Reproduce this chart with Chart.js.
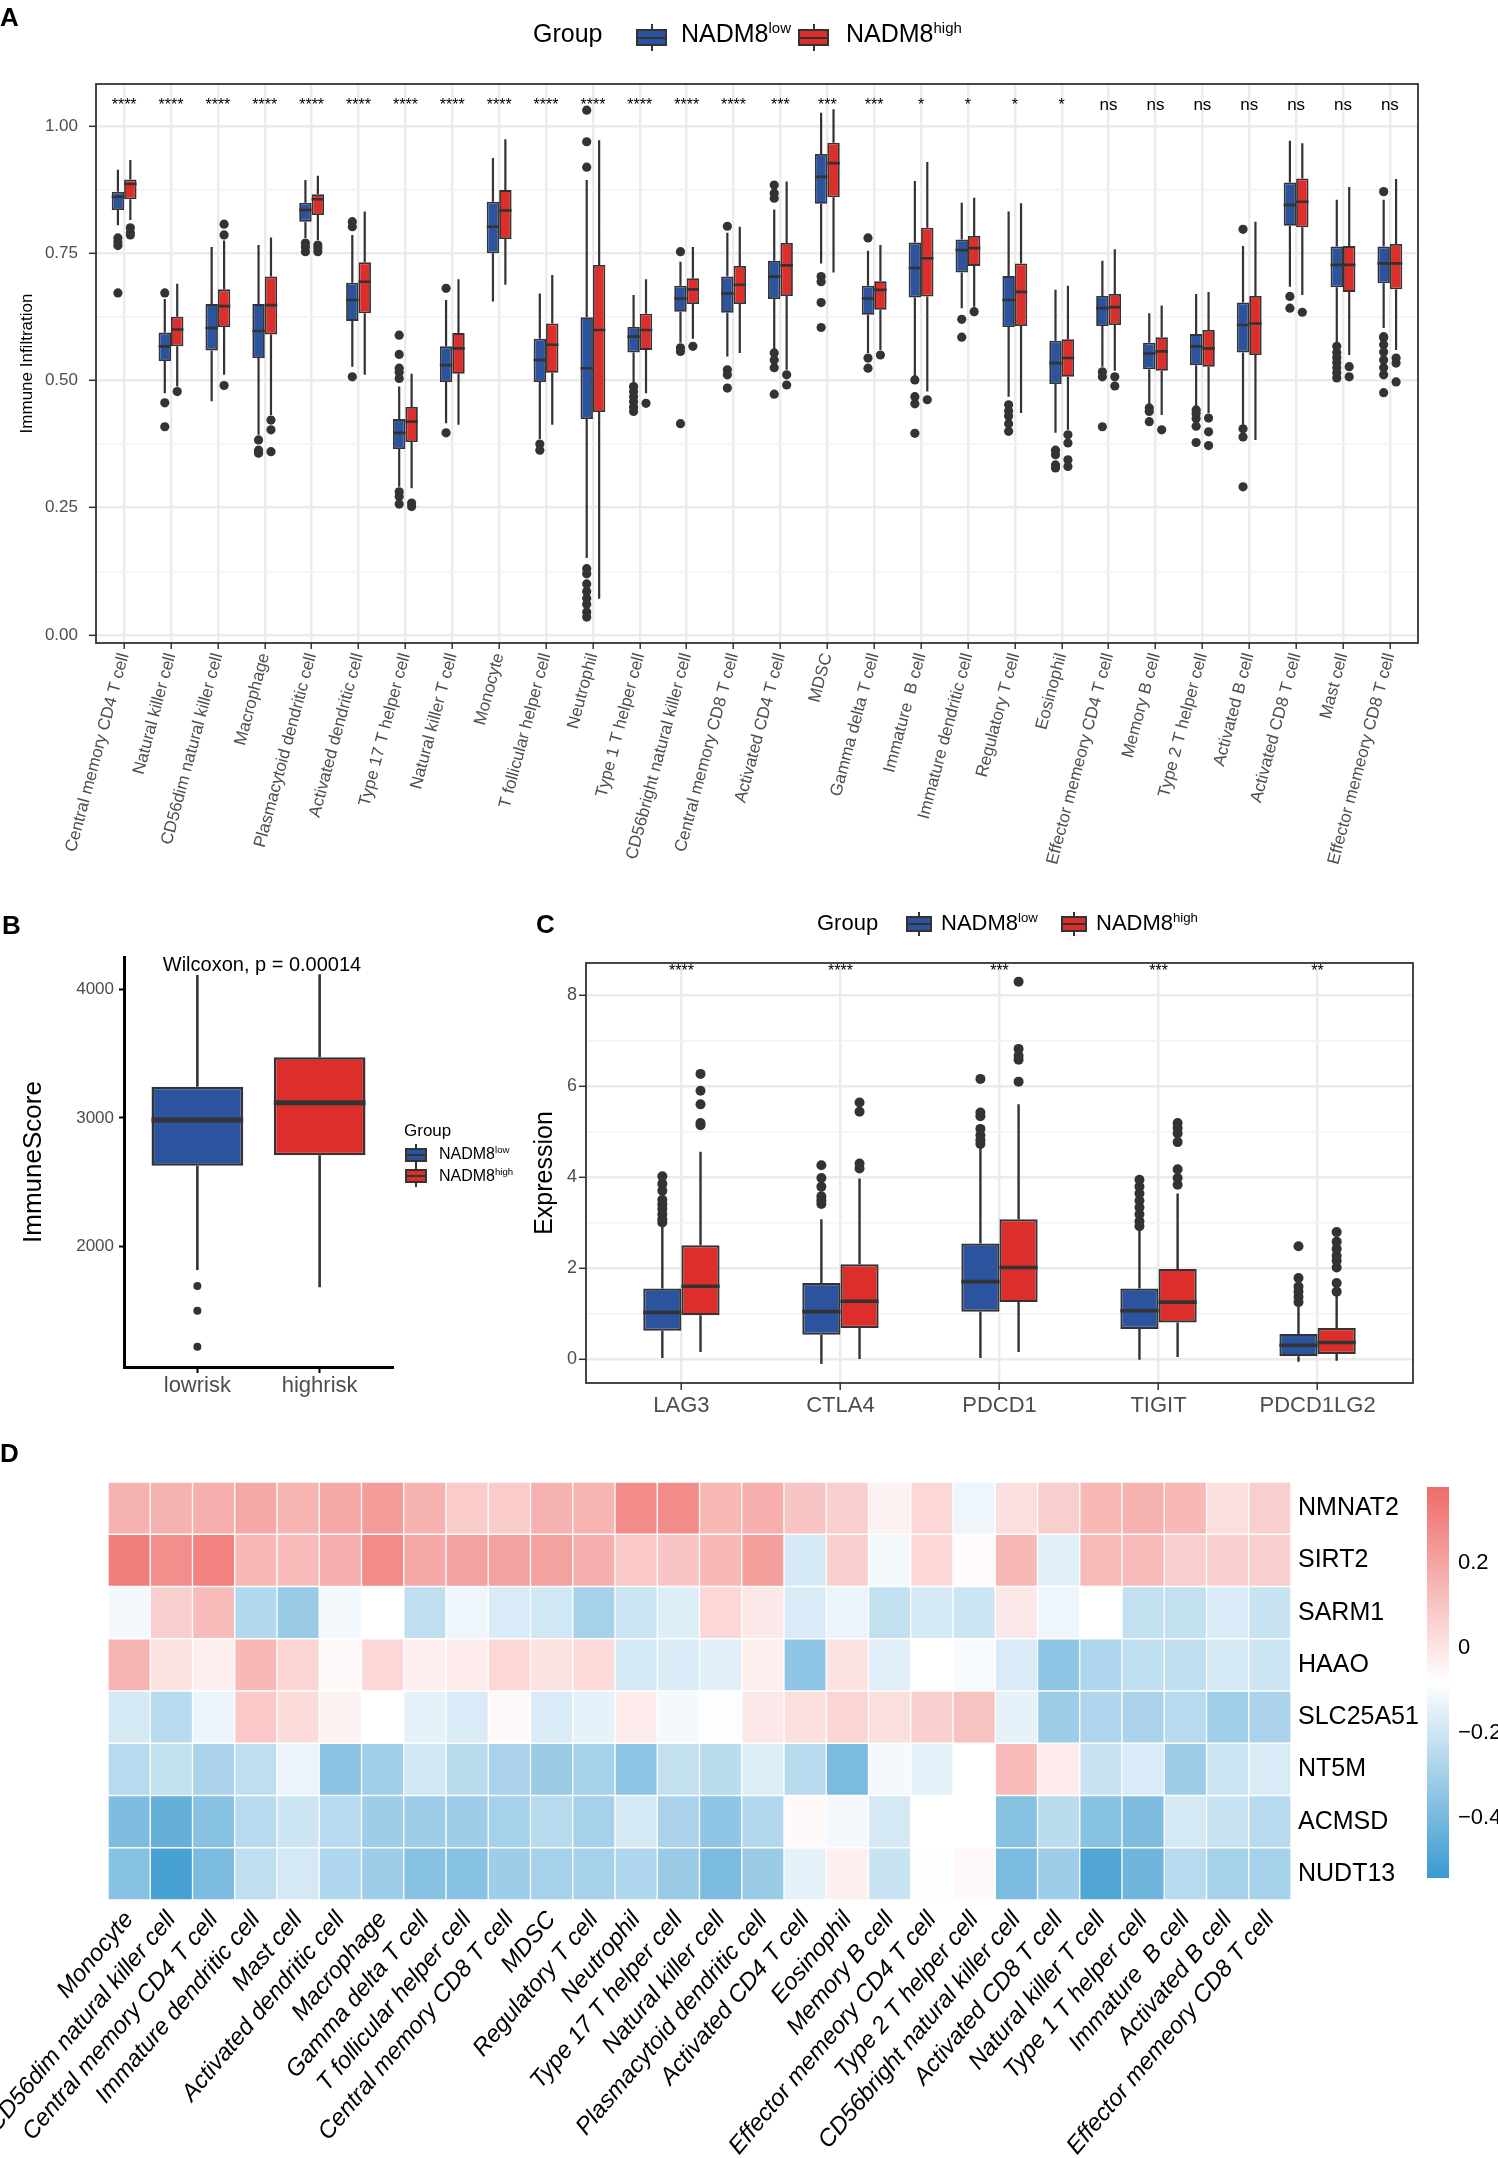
<!DOCTYPE html>
<html>
<head>
<meta charset="utf-8">
<title>NADM8 immune infiltration</title>
<script src="https://cdn.jsdelivr.net/npm/chart.js@4.4.1/dist/chart.umd.min.js"></script>
<style>
  body { margin: 0; background: #fff; font-family: 'Liberation Sans', Arial, sans-serif; }
  #page { position: relative; width: 1498px; height: 2158px; overflow: hidden; background: #fff; }
  canvas { position: absolute; }
  .txt { position: absolute; line-height: 1; white-space: nowrap; color: #000; }
  .tag { font-weight: bold; font-size: 26px; }
  sup { font-size: 0.6em; vertical-align: 0.62em; line-height: 0; }
  .key { position: absolute; }
  .key i { position: absolute; left: 50%; width: 2px; margin-left: -1px; top: 0; bottom: 0; background: #333; }
  .key b { position: absolute; left: 0; right: 0; top: 17%; bottom: 17%; border: 2px solid #333; box-sizing: border-box; }
  .key b::after { content: ''; position: absolute; left: 0; right: 0; top: 50%; height: 2px; margin-top: -1px; background: #333; }
</style>
</head>
<body>
<div id="page">
  <canvas id="cA" width="1498" height="890" style="left:0;top:0"></canvas>
  <canvas id="cB" width="560" height="540" style="left:0;top:900px"></canvas>
  <canvas id="cC" width="998" height="560" style="left:500px;top:880px"></canvas>
  <canvas id="cD" width="1498" height="718" style="left:0;top:1440px"></canvas>
  <canvas id="cE" width="98" height="480" style="left:1400px;top:1440px"></canvas>

  <div class="txt tag" style="left:0;top:4px">A</div>
  <div class="txt" style="left:533px;top:21px;font-size:25px">Group</div>
  <div class="key" style="left:636px;top:24px;width:31px;height:27px"><i></i><b style="background:#2B539E"></b></div>
  <div class="txt" style="left:681px;top:21px;font-size:25px">NADM8<sup>low</sup></div>
  <div class="key" style="left:798px;top:24px;width:31px;height:27px"><i></i><b style="background:#DC2F2B"></b></div>
  <div class="txt" style="left:846px;top:21px;font-size:25px">NADM8<sup>high</sup></div>

  <div class="txt tag" style="left:2px;top:912px">B</div>
  <div class="txt" style="left:112px;width:300px;text-align:center;top:954px;font-size:20px">Wilcoxon, p = 0.00014</div>
  <div class="txt" style="left:404px;top:1122px;font-size:17px">Group</div>
  <div class="key" style="left:405px;top:1144px;width:22px;height:22px"><i></i><b style="background:#2B539E"></b></div>
  <div class="txt" style="left:439px;top:1146px;font-size:16px">NADM8<sup>low</sup></div>
  <div class="key" style="left:405px;top:1165px;width:22px;height:22px"><i></i><b style="background:#DC2F2B"></b></div>
  <div class="txt" style="left:439px;top:1168px;font-size:16px">NADM8<sup>high</sup></div>

  <div class="txt tag" style="left:536px;top:911px">C</div>
  <div class="txt" style="left:817px;top:912px;font-size:22px">Group</div>
  <div class="key" style="left:906px;top:912px;width:26px;height:24px"><i></i><b style="background:#2B539E"></b></div>
  <div class="txt" style="left:941px;top:912px;font-size:22px">NADM8<sup>low</sup></div>
  <div class="key" style="left:1061px;top:912px;width:26px;height:24px"><i></i><b style="background:#DC2F2B"></b></div>
  <div class="txt" style="left:1096px;top:912px;font-size:22px">NADM8<sup>high</sup></div>

  <div class="txt tag" style="left:0;top:1440px">D</div>
</div>

<script>
// ---------- panel A: ssGSEA immune infiltration ----------
const cellsA = [
  'Central memory CD4 T cell', 'Natural killer cell', 'CD56dim natural killer cell', 'Macrophage',
  'Plasmacytoid dendritic cell', 'Activated dendritic cell', 'Type 17 T helper cell', 'Natural killer T cell',
  'Monocyte', 'T follicular helper cell', 'Neutrophil', 'Type 1 T helper cell',
  'CD56bright natural killer cell', 'Central memory CD8 T cell', 'Activated CD4 T cell', 'MDSC',
  'Gamma delta T cell', 'Immature  B cell', 'Immature dendritic cell', 'Regulatory T cell',
  'Eosinophil', 'Effector memeory CD4 T cell', 'Memory B cell', 'Type 2 T helper cell',
  'Activated B cell', 'Activated CD8 T cell', 'Mast cell', 'Effector memeory CD8 T cell'
];
const sigA = ['****', '****', '****', '****', '****', '****', '****', '****', '****', '****', '****', '****', '****', '****',
  '***', '***', '***', '*', '*', '*', '*', 'ns', 'ns', 'ns', 'ns', 'ns', 'ns', 'ns'];

const lowLoA  = [0.805, 0.475, 0.459, 0.393, 0.78, 0.527, 0.291, 0.416, 0.655, 0.385, 0.151, 0.495, 0.574, 0.547, 0.56, 0.73, 0.554, 0.507, 0.642, 0.468, 0.397, 0.527, 0.452, 0.449, 0.413, 0.684, 0.573, 0.603];
const lowQ1A  = [0.835, 0.538, 0.559, 0.544, 0.812, 0.617, 0.365, 0.497, 0.75, 0.497, 0.424, 0.555, 0.635, 0.633, 0.66, 0.847, 0.629, 0.663, 0.712, 0.605, 0.493, 0.607, 0.522, 0.53, 0.555, 0.804, 0.683, 0.691];
const lowMedA = [0.861, 0.567, 0.603, 0.597, 0.835, 0.658, 0.397, 0.53, 0.802, 0.54, 0.524, 0.586, 0.661, 0.671, 0.704, 0.90, 0.661, 0.721, 0.756, 0.658, 0.534, 0.642, 0.553, 0.567, 0.609, 0.845, 0.727, 0.73];
const lowQ3A  = [0.871, 0.594, 0.65, 0.65, 0.849, 0.692, 0.424, 0.567, 0.851, 0.582, 0.624, 0.605, 0.686, 0.704, 0.735, 0.945, 0.686, 0.771, 0.777, 0.705, 0.578, 0.666, 0.574, 0.591, 0.653, 0.889, 0.763, 0.763];
const lowHiA  = [0.914, 0.66, 0.762, 0.766, 0.894, 0.786, 0.488, 0.658, 0.937, 0.671, 0.894, 0.668, 0.733, 0.79, 0.836, 1.026, 0.755, 0.892, 0.849, 0.832, 0.678, 0.735, 0.632, 0.67, 0.764, 0.971, 0.855, 0.855];
const lowOutA = [
  [0.78, 0.772, 0.765, 0.672], [0.672, 0.456, 0.409], [], [0.383, 0.363, 0.357],
  [0.77, 0.762, 0.753], [0.812, 0.802, 0.507], [0.589, 0.551, 0.524, 0.516, 0.504, 0.281, 0.272, 0.257], [0.681, 0.397],
  [], [0.375, 0.363], [1.031, 0.969, 0.919, 0.13, 0.12, 0.10, 0.085, 0.072, 0.06, 0.045, 0.035], [0.488, 0.478, 0.468, 0.458, 0.448, 0.439],
  [0.753, 0.564, 0.557, 0.415], [0.803, 0.521, 0.511, 0.485], [0.884, 0.868, 0.858, 0.554, 0.54, 0.525, 0.473], [0.704, 0.694, 0.653, 0.604],
  [0.78, 0.544, 0.524], [0.501, 0.468, 0.454, 0.396], [0.62, 0.585], [0.452, 0.44, 0.43, 0.415, 0.40],
  [0.363, 0.354, 0.334, 0.328], [0.517, 0.507, 0.409], [0.446, 0.439, 0.419], [0.442, 0.435, 0.425, 0.41, 0.378],
  [0.797, 0.405, 0.389, 0.291], [0.665, 0.642], [0.567, 0.555, 0.545, 0.535, 0.525, 0.515, 0.505], [0.871, 0.586, 0.584, 0.57, 0.556, 0.54, 0.525, 0.511, 0.476]
];

const highLoA  = [0.815, 0.488, 0.511, 0.432, 0.776, 0.511, 0.288, 0.413, 0.688, 0.413, 0.071, 0.475, 0.582, 0.554, 0.521, 0.712, 0.56, 0.478, 0.645, 0.436, 0.403, 0.519, 0.432, 0.436, 0.383, 0.668, 0.55, 0.56];
const highQ1A  = [0.856, 0.567, 0.605, 0.59, 0.825, 0.632, 0.379, 0.513, 0.778, 0.515, 0.438, 0.56, 0.65, 0.65, 0.666, 0.86, 0.639, 0.665, 0.725, 0.607, 0.507, 0.609, 0.519, 0.527, 0.55, 0.801, 0.674, 0.679];
const highMedA = [0.886, 0.60, 0.646, 0.648, 0.856, 0.694, 0.419, 0.563, 0.834, 0.57, 0.599, 0.599, 0.679, 0.688, 0.726, 0.927, 0.678, 0.74, 0.76, 0.674, 0.544, 0.644, 0.557, 0.563, 0.612, 0.851, 0.727, 0.73];
const highQ3A  = [0.895, 0.625, 0.679, 0.704, 0.866, 0.732, 0.448, 0.593, 0.874, 0.612, 0.727, 0.631, 0.701, 0.725, 0.77, 0.967, 0.695, 0.80, 0.784, 0.73, 0.581, 0.67, 0.585, 0.599, 0.666, 0.897, 0.764, 0.768];
const highHiA  = [0.933, 0.69, 0.775, 0.781, 0.902, 0.832, 0.513, 0.699, 0.974, 0.707, 0.972, 0.699, 0.762, 0.802, 0.891, 1.033, 0.766, 0.929, 0.859, 0.848, 0.686, 0.758, 0.647, 0.674, 0.812, 0.966, 0.88, 0.896];
const highOutA = [
  [0.80, 0.79, 0.786], [0.478], [0.807, 0.786, 0.49], [0.422, 0.403, 0.36],
  [0.766, 0.76, 0.753], [], [0.259, 0.252], [],
  [], [], [], [0.455],
  [0.567], [], [0.511, 0.491], [],
  [0.55], [0.462], [0.635], [],
  [0.393, 0.377, 0.344, 0.331], [0.507, 0.489], [0.403], [0.426, 0.399, 0.372],
  [], [0.634], [0.527, 0.507], [0.544, 0.534, 0.497]
];
const yMajorA = [0, 0.25, 0.5, 0.75, 1.0];
const yMinorA = [0.125, 0.375, 0.625, 0.875];

// ---------- panel B: ESTIMATE immune score ----------
const riskGroups = ['lowrisk', 'highrisk'];
const loB  = [1819, 1685];
const q1B  = [2629, 2710];
const medB = [2984, 3119];
const q3B  = [3243, 3472];
const hiB  = [4111, 4117];
const outB = [[1695, 1503, 1223], []];
const yTicksB = [2000, 3000, 4000];

// ---------- panel C: immune checkpoint expression ----------
const genesC = ['LAG3', 'CTLA4', 'PDCD1', 'TIGIT', 'PDCD1LG2'];
const sigC = ['****', '****', '***', '***', '**'];
const lowLoC  = [0.02, -0.11, 0.02, -0.02, -0.06];
const lowQ1C  = [0.62, 0.53, 1.04, 0.66, 0.06];
const lowMedC = [1.02, 1.04, 1.70, 1.06, 0.30];
const lowQ3C  = [1.55, 1.67, 2.54, 1.55, 0.55];
const lowHiC  = [2.95, 3.07, 4.64, 2.84, 1.15];
const lowOutC = [
  [3.0, 3.07, 3.18, 3.3, 3.4, 3.5, 3.7, 3.85, 4.02],
  [3.41, 3.49, 3.58, 3.79, 3.98, 4.26],
  [4.73, 4.81, 4.92, 5.06, 5.34, 5.42, 6.16],
  [2.92, 3.03, 3.18, 3.33, 3.48, 3.64, 3.79, 3.94],
  [1.25, 1.36, 1.48, 1.59, 1.78, 2.48]
];
const highLoC  = [0.15, 0.0, 0.15, 0.04, -0.04];
const highQ1C  = [0.96, 0.68, 1.25, 0.80, 0.11];
const highMedC = [1.60, 1.27, 2.01, 1.25, 0.36];
const highQ3C  = [2.50, 2.08, 3.07, 1.98, 0.68];
const highHiC  = [4.56, 3.97, 5.60, 3.64, 1.40];
const highOutC = [
  [5.14, 5.19, 5.6, 5.9, 6.27],
  [4.19, 4.3, 5.44, 5.64],
  [6.1, 6.58, 6.67, 6.82, 8.3],
  [3.83, 3.98, 4.17, 4.77, 4.96, 5.08, 5.19],
  [1.48, 1.67, 2.01, 2.16, 2.27, 2.42, 2.58, 2.79]
];
const yMajorC = [0, 2, 4, 6, 8];
const yMinorC = [1, 3, 5, 7];

// ---------- panel D: correlation heatmap ----------
const hmCells = [
  'Monocyte', 'CD56dim natural killer cell', 'Central memory CD4 T cell', 'Immature dendritic cell',
  'Mast cell', 'Activated dendritic cell', 'Macrophage', 'Gamma delta T cell',
  'T follicular helper cell', 'Central memory CD8 T cell', 'MDSC', 'Regulatory T cell',
  'Neutrophil', 'Type 17 T helper cell', 'Natural killer cell', 'Plasmacytoid dendritic cell',
  'Activated CD4 T cell', 'Eosinophil', 'Memory B cell', 'Effector memeory CD4 T cell',
  'Type 2 T helper cell', 'CD56bright natural killer cell', 'Activated CD8 T cell', 'Natural killer T cell',
  'Type 1 T helper cell', 'Immature  B cell', 'Activated B cell', 'Effector memeory CD8 T cell'
];
const hmGenes = ['NMNAT2', 'SIRT2', 'SARM1', 'HAAO', 'SLC25A51', 'NT5M', 'ACMSD', 'NUDT13'];
const hmNMNAT2   = [0.16, 0.16, 0.17, 0.19, 0.15, 0.19, 0.23, 0.16, 0.08, 0.08, 0.16, 0.15, 0.28, 0.28, 0.14, 0.17, 0.10, 0.07, -0.04, 0.04, -0.12, 0.02, 0.07, 0.14, 0.16, 0.14, 0.02, 0.07];
const hmSIRT2    = [0.32, 0.27, 0.31, 0.14, 0.13, 0.17, 0.28, 0.19, 0.21, 0.21, 0.21, 0.17, 0.09, 0.10, 0.14, 0.22, -0.18, 0.07, -0.11, 0.04, -0.07, 0.14, -0.15, 0.13, 0.13, 0.07, 0.07, 0.07];
const hmSARM1    = [-0.11, 0.07, 0.13, -0.26, -0.32, -0.11, -0.08, -0.23, -0.12, -0.17, -0.19, -0.29, -0.20, -0.16, 0.04, -0.01, -0.17, -0.13, -0.22, -0.18, -0.20, -0.01, -0.12, -0.08, -0.22, -0.22, -0.17, -0.21];
const hmHAAO     = [0.15, 0.01, -0.03, 0.14, 0.05, -0.06, 0.04, -0.03, -0.02, 0.04, 0.01, 0.03, -0.18, -0.17, -0.15, -0.03, -0.34, 0.01, -0.15, -0.08, -0.10, -0.17, -0.34, -0.27, -0.23, -0.23, -0.18, -0.20];
const hmSLC25A51 = [-0.18, -0.25, -0.13, 0.09, 0.03, -0.04, -0.08, -0.14, -0.17, -0.06, -0.17, -0.14, -0.02, -0.11, -0.09, -0.01, 0.02, 0.05, 0.02, 0.07, 0.11, -0.14, -0.31, -0.27, -0.28, -0.25, -0.30, -0.28];
const hmNT5M     = [-0.25, -0.22, -0.28, -0.23, -0.13, -0.35, -0.30, -0.19, -0.24, -0.28, -0.32, -0.29, -0.34, -0.22, -0.24, -0.16, -0.25, -0.39, -0.11, -0.14, -0.08, 0.13, -0.02, -0.21, -0.17, -0.31, -0.20, -0.17];
const hmACMSD    = [-0.38, -0.44, -0.36, -0.25, -0.20, -0.25, -0.31, -0.31, -0.31, -0.29, -0.25, -0.29, -0.18, -0.28, -0.34, -0.26, -0.06, -0.11, -0.18, -0.08, -0.08, -0.36, -0.24, -0.36, -0.38, -0.18, -0.21, -0.25];
const hmNUDT13   = [-0.36, -0.51, -0.39, -0.23, -0.18, -0.27, -0.31, -0.36, -0.36, -0.31, -0.29, -0.29, -0.27, -0.32, -0.39, -0.32, -0.14, -0.03, -0.21, -0.09, -0.06, -0.39, -0.31, -0.49, -0.42, -0.25, -0.29, -0.29];
const hmRows = [hmNMNAT2, hmSIRT2, hmSARM1, hmHAAO, hmSLC25A51, hmNT5M, hmACMSD, hmNUDT13];
const cbTicks = [-0.4, -0.2, 0, 0.2];

// ---------- styling ----------
const BLUE = '#2B539E', RED = '#DC2F2B', INK = '#333333';
const hmMin = -0.541, hmMax = 0.379;
const hmLowRGB = [58, 154, 208], hmMidRGB = [255, 255, 255], hmHighRGB = [238, 108, 104];

Chart.defaults.font.family = "'Liberation Sans', Arial, sans-serif";
Chart.defaults.color = '#4D4D4D';
Chart.defaults.plugins.legend.display = false;
Chart.defaults.plugins.tooltip.enabled = false;

function heatColor(v) {
  const t = Math.max(0, Math.min(1, (v - hmMin) / (hmMax - hmMin)));
  const [a, b, f] = t < 0.5 ? [hmLowRGB, hmMidRGB, t / 0.5] : [hmMidRGB, hmHighRGB, (t - 0.5) / 0.5];
  const c = a.map((ch, k) => Math.round(ch + (b[k] - ch) * f));
  return 'rgb(' + c.join(',') + ')';
}

// one group of boxplots: box (floating bar), whiskers and medians (line segments), outliers (points)
function boxSets(g, color, off, catPct, st) {
  const halfW = catPct / (g.dodge ? 4 : 2);
  const boxes = g.q1.map((q, i) => ({ x: i, y: [q, g.q3[i]] }));
  const whisk = [], meds = [], pts = [];
  g.q1.forEach((q, i) => {
    const x = i + off;
    whisk.push({ x, y: g.lo[i] }, { x, y: q }, { x, y: null }, { x, y: g.q3[i] }, { x, y: g.hi[i] }, { x, y: null });
    meds.push({ x: x - halfW, y: g.med[i] }, { x: x + halfW, y: g.med[i] }, { x: x + halfW, y: null });
    g.out[i].forEach(v => pts.push({ x, y: v }));
  });
  return [
    { type: 'bar', data: boxes, backgroundColor: color, borderColor: INK, borderWidth: st.box, borderSkipped: false,
      barPercentage: 1, categoryPercentage: catPct, order: 2 },
    { type: 'line', data: whisk, borderColor: INK, borderWidth: st.whisk, pointRadius: 0, spanGaps: false,
      tension: 0, borderCapStyle: 'butt', order: 3 },
    { type: 'line', data: meds, borderColor: INK, borderWidth: st.med, pointRadius: 0, spanGaps: false,
      tension: 0, borderCapStyle: 'butt', order: 1 },
    { type: 'scatter', data: pts, pointRadius: st.pt, backgroundColor: INK, borderWidth: 0, order: 0 }
  ];
}

const sigPlugin = {
  id: 'sigLabels',
  afterDatasetsDraw(chart, args, opts) {
    if (!opts || !opts.labels) return;
    const { ctx, scales: { x, y } } = chart;
    ctx.save();
    ctx.fillStyle = '#000';
    ctx.textAlign = 'center';
    ctx.textBaseline = 'alphabetic';
    opts.labels.forEach((s, i) => {
      ctx.font = (s === 'ns' ? opts.nsSize : opts.size) + "px 'Liberation Sans', Arial";
      ctx.fillText(s, x.getPixelForValue(i), y.getPixelForValue(opts.y));
    });
    ctx.restore();
  }
};

const framePlugin = {
  id: 'frame',
  afterDraw(chart, args, opts) {
    if (!opts || !opts.width) return;
    const { ctx, chartArea: a } = chart;
    ctx.save();
    ctx.strokeStyle = INK;
    ctx.lineWidth = opts.width;
    ctx.strokeRect(a.left, a.top, a.right - a.left, a.bottom - a.top);
    ctx.restore();
  }
};

function gridScale(major, minor) {
  return [...major, ...minor].sort((a, b) => a - b);
}

const base = { responsive: false, devicePixelRatio: 1, animation: false, events: [] };

// ---------- chart A ----------
const catPctA = 0.53;
const stA = { box: 1.8, whisk: 2.2, med: 2.6, pt: 4.6 };
new Chart(document.getElementById('cA'), {
  type: 'bar',
  data: {
    datasets: [
      ...boxSets({ lo: lowLoA, q1: lowQ1A, med: lowMedA, q3: lowQ3A, hi: lowHiA, out: lowOutA, dodge: true }, BLUE, -catPctA / 4, catPctA, stA),
      ...boxSets({ lo: highLoA, q1: highQ1A, med: highMedA, q3: highQ3A, hi: highHiA, out: highOutA, dodge: true }, RED, catPctA / 4, catPctA, stA)
    ]
  },
  options: {
    ...base,
    layout: { padding: { left: 0, top: 84, right: 80, bottom: 0 } },
    scales: {
      x: {
        type: 'linear', min: -0.6, max: cellsA.length - 0.4, offset: false,
        afterBuildTicks: ax => { ax.ticks = cellsA.map((c, i) => ({ value: i })); },
        afterFit: ax => { ax.height = 247; },
        grid: { offset: false, color: '#EBEBEB', lineWidth: 2.4, tickColor: INK, tickLength: 6, tickWidth: 1.5 },
        border: { display: false },
        ticks: { autoSkip: false, minRotation: 75, maxRotation: 75, padding: 2, color: '#4D4D4D',
                 font: { size: 17 }, callback: (v, i) => cellsA[i] }
      },
      y: {
        min: -0.016, max: 1.0825,
        afterBuildTicks: ax => { ax.ticks = gridScale(yMajorA, yMinorA).map(v => ({ value: v })); },
        afterFit: ax => { ax.width = 96; },
        grid: {
          color: c => yMajorA.includes(c.tick.value) ? '#EBEBEB' : '#F3F3F3',
          lineWidth: c => yMajorA.includes(c.tick.value) ? 2.6 : 1.4,
          tickColor: c => yMajorA.includes(c.tick.value) ? INK : 'rgba(0,0,0,0)',
          tickLength: 7, tickWidth: 1.5
        },
        border: { display: false },
        ticks: { padding: 11, color: '#4D4D4D', font: { size: 17 },
                 callback: v => yMajorA.includes(v) ? v.toFixed(2) : '' },
        title: { display: true, text: 'Immune Infiltration', color: '#000', font: { size: 17 }, padding: { top: 17, bottom: 0 } }
      }
    },
    plugins: { sigLabels: { labels: sigA, y: 1.031, size: 16, nsSize: 17 }, frame: { width: 1.8 } }
  },
  plugins: [sigPlugin, framePlugin]
});

// ---------- chart B ----------
const catPctB = 0.75;
new Chart(document.getElementById('cB'), {
  type: 'bar',
  data: {
    datasets: boxSets({ lo: loB, q1: q1B, med: medB, q3: q3B, hi: hiB, out: outB, dodge: false }, [BLUE, RED], 0, catPctB,
                      { box: 2.6, whisk: 2.6, med: 5, pt: 4 })
  },
  options: {
    ...base,
    layout: { padding: { left: 0, top: 57, right: 167, bottom: 23 } },
    scales: {
      x: {
        type: 'linear', min: -0.6, max: 1.6, offset: false,
        afterBuildTicks: ax => { ax.ticks = riskGroups.map((g, i) => ({ value: i })); },
        afterFit: ax => { ax.height = 50; },
        grid: { offset: false, drawOnChartArea: false, tickLength: 6, tickColor: '#000', tickWidth: 2 },
        border: { display: true, color: '#000', width: 3 },
        ticks: { padding: 0, color: '#4D4D4D', font: { size: 22 }, callback: (v, i) => riskGroups[i] }
      },
      y: {
        min: 1065, max: 4251,
        afterBuildTicks: ax => { ax.ticks = yTicksB.map(v => ({ value: v })); },
        afterFit: ax => { ax.width = 124; },
        grid: { drawOnChartArea: false, tickLength: 5, tickColor: '#000', tickWidth: 2 },
        border: { display: true, color: '#000', width: 3 },
        ticks: { padding: 5, color: '#4D4D4D', font: { size: 17 }, callback: v => String(v) },
        title: { display: true, text: 'ImmuneScore', color: '#000', font: { size: 26 }, padding: { top: 18, bottom: 0 } }
      }
    }
  }
});

// ---------- chart C ----------
const catPctC = 0.48;
const stC = { box: 2.2, whisk: 2.4, med: 3.6, pt: 5 };
new Chart(document.getElementById('cC'), {
  type: 'bar',
  data: {
    datasets: [
      ...boxSets({ lo: lowLoC, q1: lowQ1C, med: lowMedC, q3: lowQ3C, hi: lowHiC, out: lowOutC, dodge: true }, BLUE, -catPctC / 4, catPctC, stC),
      ...boxSets({ lo: highLoC, q1: highQ1C, med: highMedC, q3: highQ3C, hi: highHiC, out: highOutC, dodge: true }, RED, catPctC / 4, catPctC, stC)
    ]
  },
  options: {
    ...base,
    layout: { padding: { left: 0, top: 83, right: 85, bottom: 12 } },
    scales: {
      x: {
        type: 'linear', min: -0.6, max: genesC.length - 0.4, offset: false,
        afterBuildTicks: ax => { ax.ticks = genesC.map((g, i) => ({ value: i })); },
        afterFit: ax => { ax.height = 45; },
        grid: { offset: false, color: '#EBEBEB', lineWidth: 2.4, tickColor: INK, tickLength: 7, tickWidth: 1.5 },
        border: { display: false },
        ticks: { padding: 3, color: '#4D4D4D', font: { size: 22 }, callback: (v, i) => genesC[i] }
      },
      y: {
        min: -0.53, max: 8.71,
        afterBuildTicks: ax => { ax.ticks = gridScale(yMajorC, yMinorC).map(v => ({ value: v })); },
        afterFit: ax => { ax.width = 86; },
        grid: {
          color: c => yMajorC.includes(c.tick.value) ? '#EBEBEB' : '#F3F3F3',
          lineWidth: c => yMajorC.includes(c.tick.value) ? 2.6 : 1.4,
          tickColor: c => yMajorC.includes(c.tick.value) ? INK : 'rgba(0,0,0,0)',
          tickLength: 7, tickWidth: 1.5
        },
        border: { display: false },
        ticks: { padding: 2, color: '#4D4D4D', font: { size: 18 },
                 callback: v => yMajorC.includes(v) ? String(v) : '' },
        title: { display: true, text: 'Expression', color: '#000', font: { size: 25 }, padding: { top: 30, bottom: 0 } }
      }
    },
    plugins: { sigLabels: { labels: sigC, y: 8.42, size: 16, nsSize: 17 }, frame: { width: 1.8 } }
  },
  plugins: [sigPlugin, framePlugin]
});

// ---------- chart D (heatmap: one stacked cell per gene and cell type) ----------
const heatSets = hmRows.map((row, r) => ({
  label: hmGenes[r],
  data: row.map(() => 1),
  backgroundColor: row.map(heatColor),
  borderColor: '#fff', borderWidth: 1, borderSkipped: false,
  barPercentage: 1, categoryPercentage: 1
})).reverse();

new Chart(document.getElementById('cD'), {
  type: 'bar',
  data: { labels: hmCells, datasets: heatSets },
  options: {
    ...base,
    layout: { padding: { left: 108, top: 42, right: 0, bottom: 0 } },
    scales: {
      x: {
        stacked: true,
        afterFit: ax => { ax.height = 258; },
        grid: { display: false, drawTicks: false },
        border: { display: false },
        ticks: { autoSkip: false, minRotation: 50, maxRotation: 50, padding: 6, color: '#000',
                 font: { size: 24, style: 'italic' } }
      },
      y: { stacked: true, display: false, min: 0, max: hmGenes.length },
      y2: {
        type: 'category', labels: hmGenes, position: 'right', offset: true,
        afterFit: ax => { ax.width = 207; },
        grid: { display: false, drawTicks: false },
        border: { display: false },
        ticks: { padding: 7, color: '#000', font: { size: 25 } }
      }
    }
  }
});

// ---------- colour key ----------
new Chart(document.getElementById('cE'), {
  type: 'bar',
  data: {
    labels: [''],
    datasets: [{
      data: [[hmMin, hmMax]],
      backgroundColor: c => {
        const area = c.chart.chartArea;
        if (!area) return '#fff';
        const g = c.chart.ctx.createLinearGradient(0, area.bottom, 0, area.top);
        for (let k = 0; k <= 20; k++) g.addColorStop(k / 20, heatColor(hmMin + (hmMax - hmMin) * k / 20));
        return g;
      },
      borderWidth: 0, barPercentage: 1, categoryPercentage: 1
    }]
  },
  options: {
    ...base,
    layout: { padding: { left: 27, top: 47, right: 0, bottom: 42 } },
    scales: {
      x: { display: false },
      y: {
        position: 'right', min: hmMin, max: hmMax,
        afterBuildTicks: ax => { ax.ticks = cbTicks.map(v => ({ value: v })); },
        afterFit: ax => { ax.width = 49; },
        grid: { display: false, drawTicks: false },
        border: { display: false },
        ticks: { padding: 9, color: '#000', font: { size: 22 },
                 callback: v => v === 0 ? '0' : (v < 0 ? '\u2212' + Math.abs(v).toFixed(1) : v.toFixed(1)) }
      }
    }
  }
});
</script>
</body>
</html>
